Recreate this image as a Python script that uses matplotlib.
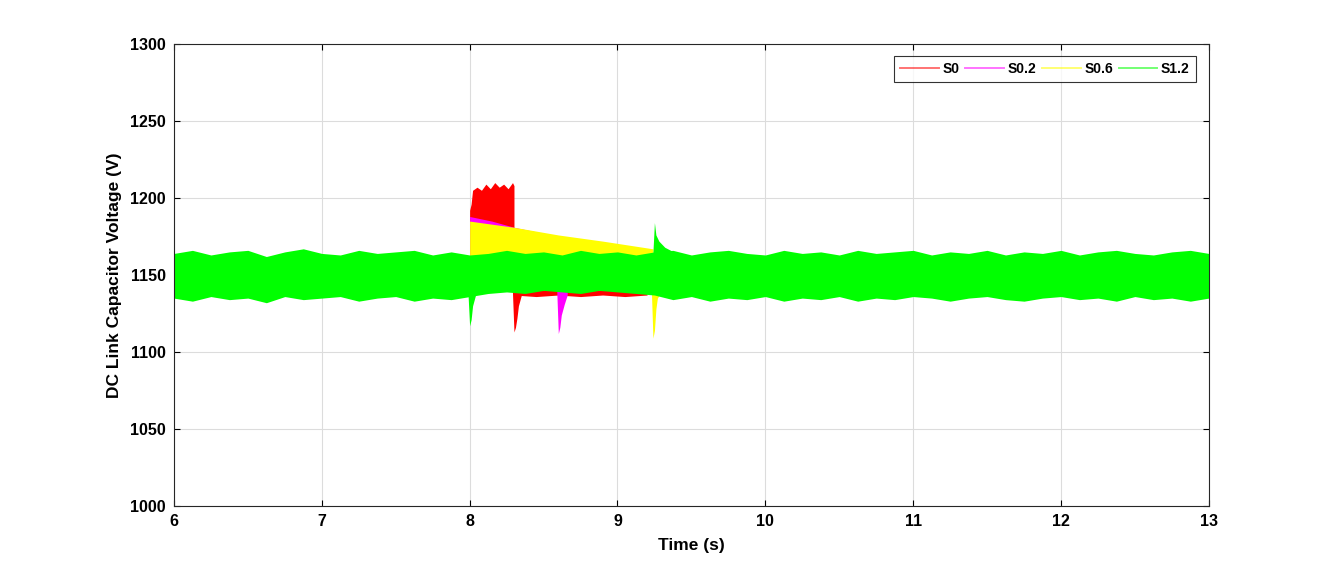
import numpy as np
import matplotlib.pyplot as plt
from matplotlib.lines import Line2D

plt.rcParams["font.family"] = ["Liberation Sans", "DejaVu Sans"]
plt.rcParams["font.weight"] = "bold"

################################################
## Data (envelopes)

labels = ["S0", "S0.2", "S0.6", "S1.2"]
colors = ["#ff0000", "#ff00ff", "#ffff00", "#00ff00"]

# steady-state band of S1.2 (covers the others), time knots
base_t = [6.0, 6.125, 6.25, 6.375, 6.5, 6.625, 6.75, 6.875, 7.0, 7.125, 7.25,
          7.375, 7.5, 7.625, 7.75, 7.875, 8.0, 8.125, 8.25, 8.375, 8.5, 8.625,
          8.75, 8.875, 9.0, 9.125, 9.25, 9.375, 9.5, 9.625, 9.75, 9.875, 10.0,
          10.125, 10.25, 10.375, 10.5, 10.625, 10.75, 10.875, 11.0, 11.125,
          11.25, 11.375, 11.5, 11.625, 11.75, 11.875, 12.0, 12.125, 12.25,
          12.375, 12.5, 12.625, 12.75, 12.875, 13.0]
green_hi = [1164, 1166, 1163, 1165, 1166, 1162, 1165, 1167, 1164, 1163, 1166,
            1164, 1165, 1166, 1163, 1165, 1163, 1164, 1166, 1164, 1165, 1163,
            1166, 1164, 1165, 1163, 1165, 1166, 1163, 1165, 1166, 1164, 1163,
            1166, 1164, 1165, 1163, 1166, 1164, 1165, 1166, 1163, 1165, 1164,
            1166, 1163, 1165, 1164, 1166, 1163, 1165, 1166, 1164, 1163, 1165,
            1166, 1164]
green_lo = [1135, 1133, 1136, 1134, 1135, 1132, 1136, 1134, 1135, 1136, 1133,
            1135, 1136, 1133, 1135, 1134, 1136, 1138, 1139, 1138, 1140, 1139,
            1138, 1140, 1139, 1138, 1137, 1134, 1136, 1133, 1135, 1134, 1136,
            1133, 1135, 1134, 1136, 1133, 1135, 1134, 1136, 1135, 1133, 1135,
            1136, 1134, 1133, 1135, 1136, 1134, 1135, 1133, 1136, 1134, 1135,
            1133, 1135]

# lower edge of S0 / S0.2 peeking out below S1.2 after the step
mid_t = [8.3, 8.45, 8.6, 8.75, 8.9, 9.05, 9.2]
mid_lo = [1137, 1136, 1137, 1136, 1137, 1136, 1137]

# S0: burst after the step, then dip at 8.3 s
s0_burst_t = [8.0, 8.01, 8.02, 8.05, 8.08, 8.11, 8.14, 8.17, 8.2, 8.23, 8.26,
              8.29, 8.30]
s0_burst_hi = [1192, 1196, 1205, 1207, 1205, 1209, 1206, 1210, 1207, 1209,
               1206, 1210, 1208]
s0_dip_t = [8.29, 8.30, 8.31, 8.32, 8.33, 8.35]
s0_dip_lo = [1138, 1113, 1116, 1122, 1130, 1137]

# S0.2: decaying top, dip at 8.6 s
s02_t = [8.0, 8.15, 8.3, 8.45, 8.6]
s02_hi = [1188, 1185, 1181, 1178, 1175]
s02_dip_t = [8.59, 8.60, 8.61, 8.62, 8.64, 8.66]
s02_dip_lo = [1138, 1112, 1116, 1124, 1131, 1137]

# S0.6: decaying top, dip at 9.25 s
s06_t = [8.0, 8.3, 8.6, 8.9, 9.24]
s06_hi = [1185, 1181, 1176, 1172, 1167]
s06_dip_t = [9.23, 9.24, 9.25, 9.26, 9.27, 9.29]
s06_dip_lo = [1138, 1109, 1114, 1128, 1135, 1138]

# S1.2: dip at 8.0 s, spike at 9.25 s
s12_dip_t = [7.99, 8.0, 8.01, 8.02, 8.04]
s12_dip_lo = [1136, 1117, 1121, 1130, 1137]
s12_spk_t = [9.24, 9.25, 9.26, 9.28, 9.32, 9.38]
s12_spk_hi = [1165, 1184, 1176, 1172, 1168, 1165]

################################################

fig = plt.figure(figsize=(13.36, 5.69), dpi=100)
ax = fig.add_axes([0.1302, 0.1107, 0.7746, 0.812])

# S0
ax.fill_between(mid_t, 1150, mid_lo, color=colors[0], lw=0)
ax.fill_between(s0_burst_t, s0_burst_hi, 1140, color=colors[0], lw=0)
ax.fill_between(s0_dip_t, 1140, s0_dip_lo, color=colors[0], lw=0)

# S0.2
ax.fill_between(s02_t, s02_hi, 1140, color=colors[1], lw=0)
ax.fill_between(s02_dip_t, 1140, s02_dip_lo, color=colors[1], lw=0)

# S0.6
ax.fill_between(s06_t, s06_hi, 1140, color=colors[2], lw=0)
ax.fill_between(s06_dip_t, 1140, s06_dip_lo, color=colors[2], lw=0)

# S1.2
ax.fill_between(base_t, green_hi, green_lo, color=colors[3], lw=0)
ax.fill_between(s12_dip_t, 1150, s12_dip_lo, color=colors[3], lw=0)
ax.fill_between(s12_spk_t, s12_spk_hi, 1145, color=colors[3], lw=0)

ax.set_xlim(6, 13)
ax.set_ylim(1000, 1300)
ax.set_xticks(range(6, 14))
ax.set_yticks(range(1000, 1301, 50))
ax.grid(True, color="#dcdcdc", lw=0.8)
ax.set_axisbelow(True)
ax.tick_params(direction="in", top=True, right=True, labelsize=11.5,
               length=4, pad=6)
for lab in ax.get_xticklabels() + ax.get_yticklabels():
    lab.set_fontweight("bold")
for sp in ax.spines.values():
    sp.set_linewidth(0.8)
    sp.set_color("#262626")

ax.set_xlabel("Time (s)", fontsize=12.5, fontweight="bold", labelpad=6)
ax.set_ylabel("DC Link Capacitor Voltage (V)", fontsize=12.5,
              fontweight="bold", labelpad=6)

handles = [Line2D([0], [0], color=c, lw=1.4, alpha=0.55) for c in colors]
leg = ax.legend(handles, labels, loc="upper right", ncol=4,
                prop={"weight": "bold", "size": 10}, frameon=True,
                fancybox=False, edgecolor="black", handlelength=2.8,
                columnspacing=0.4, handletextpad=0.25, borderpad=0.45,
                borderaxespad=0, bbox_to_anchor=(0.9874, 0.974))
leg.get_frame().set_linewidth(0.8)

plt.savefig("out.png", dpi=100)
